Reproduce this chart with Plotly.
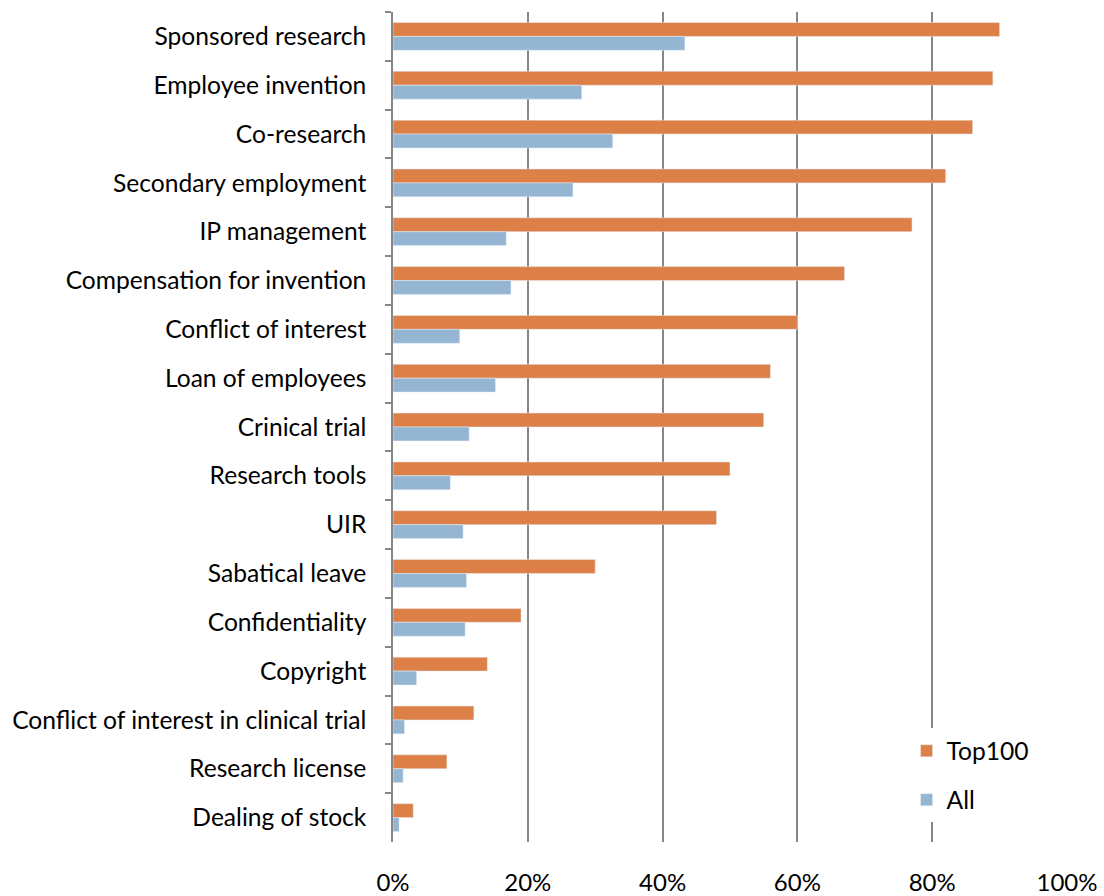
import plotly.graph_objects as go

categories = [
    "Sponsored research", "Employee invention", "Co-research",
    "Secondary employment", "IP management", "Compensation for invention",
    "Conflict of interest", "Loan of employees", "Crinical trial",
    "Research tools", "UIR", "Sabatical leave", "Confidentiality",
    "Copyright", "Conflict of interest in clinical trial",
    "Research license", "Dealing of stock",
]
top100 = [90, 89, 86, 82, 77, 67, 60, 56, 55, 50, 48, 30, 19, 14, 12, 8, 3]
all_univ = [43.3, 28.0, 32.6, 26.7, 16.8, 17.5, 9.9, 15.2, 11.3, 8.5, 10.4,
            10.9, 10.7, 3.5, 1.7, 1.5, 0.9]
x_ticks = [0, 20, 40, 60, 80, 100]
x_tick_text = ["0%", "20%", "40%", "60%", "80%", "100%"]

ORANGE = "#DD8047"
BLUE = "#95B6D3"
GRID = "#868686"
FONT = "Lato"
FSIZE = 24.6

fig = go.Figure()
fig.add_trace(go.Bar(
    y=categories, x=top100, name="Top100", orientation="h",
    marker=dict(color=ORANGE), legendgroup="a",
))
fig.add_trace(go.Bar(
    y=categories, x=all_univ, name="All", orientation="h",
    marker=dict(color=BLUE), legendgroup="b",
))

fig.update_layout(
    width=1104, height=896,
    margin=dict(l=393, r=37, t=12, b=54, autoexpand=False),
    paper_bgcolor="white", plot_bgcolor="white",
    barmode="group", bargap=0.43, bargroupgap=0,
    font=dict(family=FONT, size=FSIZE, color="#000000"),
    showlegend=True,
    legend=dict(
        x=0.762, y=0.137, xanchor="left", yanchor="top",
        bgcolor="white", traceorder="grouped", tracegroupgap=14,
        font=dict(family=FONT, size=FSIZE),
        itemwidth=30,
    ),
)
fig.update_xaxes(
    range=[0, 100], tickvals=x_ticks, ticktext=x_tick_text,
    tickfont=dict(size=24),
    showgrid=True, gridcolor=GRID, gridwidth=1.5,
    zeroline=False, showline=False, ticks="",
    ticklabelstandoff=24, automargin=False,
)
fig.update_yaxes(
    autorange="reversed", type="category",
    showline=True, linecolor=GRID, linewidth=1.5,
    ticks="outside", tickson="boundaries", ticklen=6,
    tickcolor=GRID, tickwidth=1.5,
    showgrid=False, zeroline=False, ticklabelstandoff=20,
    automargin=False,
)

fig.write_html("out.html")
